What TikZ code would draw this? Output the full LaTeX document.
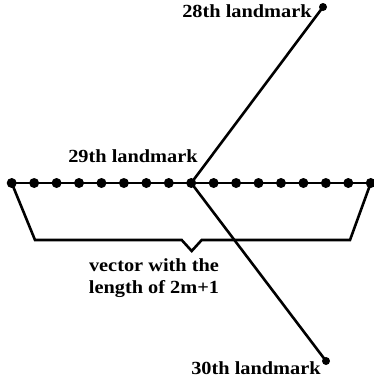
\documentclass[tikz,border=0pt]{standalone}
\usepackage{fontspec}
\setmainfont{Liberation Serif}[FakeStretch=1.1]
\begin{document}
\begin{tikzpicture}[x=1pt,y=-1pt,
  dot/.style={circle,fill=black,inner sep=0pt,minimum size=10pt},
  enddot/.style={circle,fill=black,inner sep=0pt,minimum size=8pt},
  lbl/.style={font=\fontsize{18.5}{22}\selectfont\bfseries,inner sep=0pt},
  ln/.style={line width=2.6pt}]
\useasboundingbox (0,0) rectangle (374,381);
% horizontal line of dots
\foreach \i in {1,...,17} {
  \node[dot] (d\i) at ({11.7+(\i-1)*22.44},183) {};
}
\node[enddot] (t) at (323,7) {};
\node[enddot] (b) at (326,361) {};
\draw[ln] (d1.center) -- (d17.center);
\draw[ln] (t.center) -- (d9.center) -- (b.center);
% bracket
\coordinate (bl) at (35,240);
\coordinate (n1) at (181.7,240);
\coordinate (nt) at (191.7,251);
\coordinate (n2) at (201.7,240);
\coordinate (br) at (350,240);
\draw[ln,line join=miter] (d1.center) -- (bl) -- (n1) -- (nt) -- (n2) -- (br) -- (d17.center);
% labels
\node[lbl] (l28) at (247,11) {28th landmark};
\node[lbl] (l29) at (133,156) {29th landmark};
\node[lbl] (l30) at (256,368) {30th landmark};
\node[lbl,align=center] (vec) at (154,278) {vector with the\\ length of 2m+1};
\end{tikzpicture}
\end{document}
